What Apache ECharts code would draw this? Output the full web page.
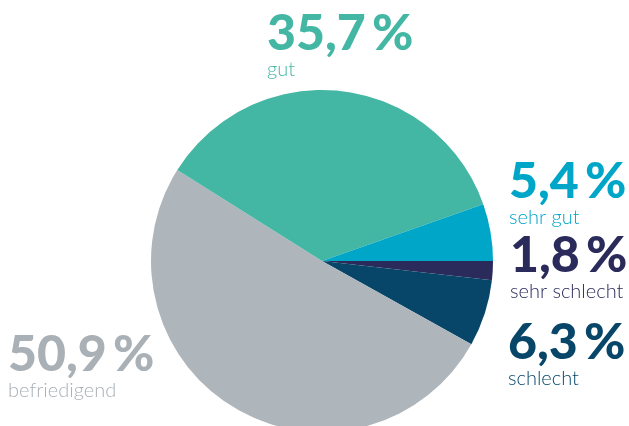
<!DOCTYPE html>
<html>
<head>
<meta charset="utf-8">
<script src="https://cdn.jsdelivr.net/npm/echarts@6/dist/echarts.min.js"></script>
<style>
  html, body { margin: 0; padding: 0; background: #fff; }
  #chart { width: 629px; height: 426px; }
</style>
</head>
<body>
<div id="chart"></div>
<script>
// Werte (Reihenfolge im Uhrzeigersinn ab 3 Uhr)
const categories = ['sehr schlecht', 'schlecht', 'befriedigend', 'gut', 'sehr gut']
const values = [1.8, 6.3, 50.9, 35.7, 5.4]
const percentLabels = ['1,8\u2009%', '6,3\u2009%', '50,9\u2009%', '35,7\u2009%', '5,4\u2009%']
const colors = ['#2a2b5b', '#074669', '#aeb5bb', '#44b7a4', '#00a6c8']
const textColors = ['#2a2b5b', '#074669', '#a9b0b6', '#44b7a4', '#00a6c8']

// Position der Beschriftungen (links oben)
const labelPos = [
  [510, 230],
  [508, 317],
  [8, 329],
  [267, 8],
  [509, 156]
]

const chart = echarts.init(document.getElementById('chart'))

chart.setOption({
  animation: false,
  series: [
    {
      type: 'pie',
      center: [322, 261],
      radius: [0, 171],
      startAngle: 0,
      clockwise: true,
      itemStyle: { borderWidth: 0 },
      labelLine: { show: false },
      label: {
        show: true,
        position: 'outside',
        overflow: 'none',
        alignTo: 'none',
        formatter: p => '{p|' + percentLabels[p.dataIndex] + '}\n{n|' + p.name + '}'
      },
      labelLayout: p => ({
        x: labelPos[p.dataIndex][0],
        y: labelPos[p.dataIndex][1],
        align: 'left',
        verticalAlign: 'top',
        hideOverlap: false
      }),
      data: categories.map((name, i) => ({
        name,
        value: values[i],
        itemStyle: { color: colors[i] },
        label: {
          color: textColors[i],
          rich: {
            p: {
              fontFamily: 'Lato',
              fontWeight: 900,
              fontSize: 50,
              lineHeight: 52,
              color: textColors[i]
            },
            n: {
              fontFamily: 'Lato',
              fontWeight: 300,
              fontSize: 20,
              lineHeight: 20,
              color: textColors[i]
            }
          }
        }
      }))
    }
  ]
})
</script>
</body>
</html>
